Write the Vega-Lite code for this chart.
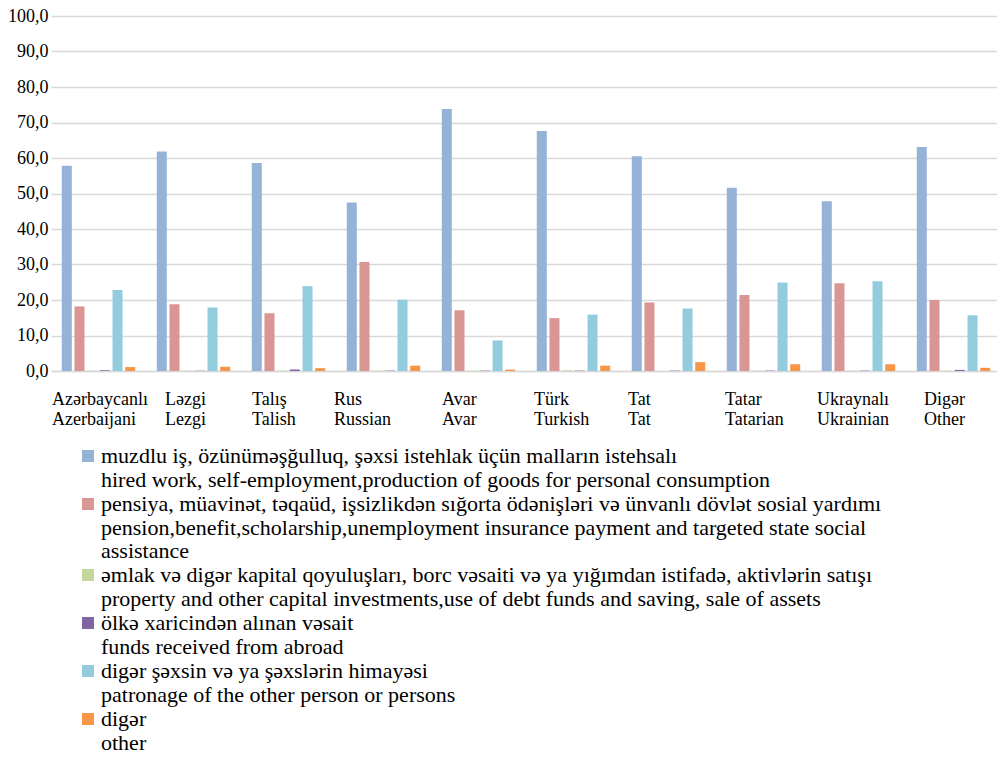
{
  "$schema": "https://vega.github.io/schema/vega-lite/v6.json",
  "width": 950,
  "height": 355,
  "autosize": "none",
  "padding": {"left": 51, "top": 16, "right": 0, "bottom": 387},
  "background": "white",
  "config": {"font": "Liberation Serif", "view": {"stroke": null}},
  "datasets": {
    "series": [
      {"k": "A", "label": "muzdlu iş, özünüməşğulluq, şəxsi istehlak üçün malların istehsalı\nhired work, self-employment,production of goods for personal consumption"},
      {"k": "B", "label": "pensiya, müavinət, təqaüd, işsizlikdən sığorta ödənişləri və ünvanlı dövlət sosial yardımı\npension,benefit,scholarship,unemployment insurance payment and targeted state social\nassistance"},
      {"k": "C", "label": " əmlak və digər kapital qoyuluşları, borc vəsaiti və ya yığımdan istifadə, aktivlərin satışı\nproperty and other capital investments,use of debt funds and saving, sale of assets"},
      {"k": "D", "label": " ölkə xaricindən alınan vəsait\nfunds received from abroad"},
      {"k": "E", "label": "digər şəxsin və ya şəxslərin himayəsi\npatronage of the other person or persons"},
      {"k": "F", "label": "digər\nother"}
    ]
  },
  "data": {"values": [
    {"g": "Azərbaycanlı\nAzerbaijani", "k": "A", "v": 57.8},
    {"g": "Azərbaycanlı\nAzerbaijani", "k": "B", "v": 18.2},
    {"g": "Azərbaycanlı\nAzerbaijani", "k": "C", "v": 0.1},
    {"g": "Azərbaycanlı\nAzerbaijani", "k": "D", "v": 0.2},
    {"g": "Azərbaycanlı\nAzerbaijani", "k": "E", "v": 22.8},
    {"g": "Azərbaycanlı\nAzerbaijani", "k": "F", "v": 1.1},
    {"g": "Ləzgi\nLezgi", "k": "A", "v": 61.8},
    {"g": "Ləzgi\nLezgi", "k": "B", "v": 18.8},
    {"g": "Ləzgi\nLezgi", "k": "C", "v": 0.1},
    {"g": "Ləzgi\nLezgi", "k": "D", "v": 0.1},
    {"g": "Ləzgi\nLezgi", "k": "E", "v": 17.9},
    {"g": "Ləzgi\nLezgi", "k": "F", "v": 1.2},
    {"g": "Talış\nTalish", "k": "A", "v": 58.6},
    {"g": "Talış\nTalish", "k": "B", "v": 16.3},
    {"g": "Talış\nTalish", "k": "C", "v": 0.1},
    {"g": "Talış\nTalish", "k": "D", "v": 0.4},
    {"g": "Talış\nTalish", "k": "E", "v": 23.9},
    {"g": "Talış\nTalish", "k": "F", "v": 0.8},
    {"g": "Rus\nRussian", "k": "A", "v": 47.5},
    {"g": "Rus\nRussian", "k": "B", "v": 30.7},
    {"g": "Rus\nRussian", "k": "C", "v": 0.1},
    {"g": "Rus\nRussian", "k": "D", "v": 0.1},
    {"g": "Rus\nRussian", "k": "E", "v": 20.1},
    {"g": "Rus\nRussian", "k": "F", "v": 1.5},
    {"g": "Avar\nAvar", "k": "A", "v": 73.8},
    {"g": "Avar\nAvar", "k": "B", "v": 17.1},
    {"g": "Avar\nAvar", "k": "C", "v": 0.1},
    {"g": "Avar\nAvar", "k": "D", "v": 0.1},
    {"g": "Avar\nAvar", "k": "E", "v": 8.6},
    {"g": "Avar\nAvar", "k": "F", "v": 0.4},
    {"g": "Türk\nTurkish", "k": "A", "v": 67.6},
    {"g": "Türk\nTurkish", "k": "B", "v": 14.9},
    {"g": "Türk\nTurkish", "k": "C", "v": 0.2},
    {"g": "Türk\nTurkish", "k": "D", "v": 0.1},
    {"g": "Türk\nTurkish", "k": "E", "v": 15.9},
    {"g": "Türk\nTurkish", "k": "F", "v": 1.5},
    {"g": "Tat\nTat", "k": "A", "v": 60.5},
    {"g": "Tat\nTat", "k": "B", "v": 19.3},
    {"g": "Tat\nTat", "k": "C", "v": 0.0},
    {"g": "Tat\nTat", "k": "D", "v": 0.1},
    {"g": "Tat\nTat", "k": "E", "v": 17.6},
    {"g": "Tat\nTat", "k": "F", "v": 2.5},
    {"g": "Tatar\nTatarian", "k": "A", "v": 51.6},
    {"g": "Tatar\nTatarian", "k": "B", "v": 21.4},
    {"g": "Tatar\nTatarian", "k": "C", "v": 0.1},
    {"g": "Tatar\nTatarian", "k": "D", "v": 0.1},
    {"g": "Tatar\nTatarian", "k": "E", "v": 24.9},
    {"g": "Tatar\nTatarian", "k": "F", "v": 1.9},
    {"g": "Ukraynalı\nUkrainian", "k": "A", "v": 47.8},
    {"g": "Ukraynalı\nUkrainian", "k": "B", "v": 24.7},
    {"g": "Ukraynalı\nUkrainian", "k": "C", "v": 0.1},
    {"g": "Ukraynalı\nUkrainian", "k": "D", "v": 0.1},
    {"g": "Ukraynalı\nUkrainian", "k": "E", "v": 25.3},
    {"g": "Ukraynalı\nUkrainian", "k": "F", "v": 1.9},
    {"g": "Digər\nOther", "k": "A", "v": 63.1},
    {"g": "Digər\nOther", "k": "B", "v": 20.0},
    {"g": "Digər\nOther", "k": "C", "v": 0.1},
    {"g": "Digər\nOther", "k": "D", "v": 0.3},
    {"g": "Digər\nOther", "k": "E", "v": 15.7},
    {"g": "Digər\nOther", "k": "F", "v": 0.9}
  ]},
  "transform": [
    {"lookup": "k", "from": {"data": {"name": "series"}, "key": "k", "fields": ["label"]}}
  ],
  "mark": {"type": "bar"},
  "encoding": {
    "x": {
      "field": "g", "type": "nominal", "sort": null,
      "scale": {"paddingInner": 0, "paddingOuter": 0},
      "axis": {
        "title": null,
        "labelExpr": "split(datum.label, '\\n')",
        "labelAngle": 0,
        "labelAlign": "left",
        "labelBaseline": "top",
        "labelOffset": {
          "condition": [
            {"test": "datum.value == domain('x')[1]", "value": -28.5},
            {"test": "datum.value == domain('x')[2]", "value": -36.5},
            {"test": "datum.value == domain('x')[3]", "value": -49.5},
            {"test": "datum.value == domain('x')[4]", "value": -36.5},
            {"test": "datum.value == domain('x')[5]", "value": -39.5},
            {"test": "datum.value == domain('x')[6]", "value": -40.5},
            {"test": "datum.value == domain('x')[7]", "value": -38.5},
            {"test": "datum.value == domain('x')[8]", "value": -41.5},
            {"test": "datum.value == domain('x')[9]", "value": -29.5}
          ],
          "value": -46.5
        },
        "labelPadding": 19,
        "labelFont": "Liberation Serif",
        "labelFontSize": 18,
        "labelLineHeight": 20,
        "labelColor": "#000000",
        "labelLimit": 300,
        "ticks": false,
        "domainColor": "#d9d9d9",
        "domainWidth": 1.5
      }
    },
    "xOffset": {
      "field": "label", "type": "nominal", "sort": null,
      "scale": {"paddingInner": 0.21, "paddingOuter": 0.85}
    },
    "y": {
      "field": "v", "type": "quantitative",
      "scale": {"domain": [0, 100]},
      "axis": {
        "title": null,
        "values": [0, 10, 20, 30, 40, 50, 60, 70, 80, 90, 100],
        "labelExpr": "replace(format(datum.value, '.1f'), '.', ',')",
        "labelFont": "Liberation Serif",
        "labelFontSize": 18,
        "labelColor": "#000000",
        "labelPadding": 3,
        "ticks": false,
        "domain": false,
        "gridColor": "#d9d9d9",
        "gridWidth": 1.5
      }
    },
    "color": {
      "field": "label", "type": "nominal", "sort": null,
      "scale": {"range": ["#95b3d7", "#d99694", "#c3d69b", "#8064a2", "#93cddd", "#f79646"]},
      "legend": {
        "title": null,
        "orient": "none",
        "legendX": 26,
        "legendY": 429,
        "direction": "vertical",
        "symbolType": "square",
        "symbolSize": 144,
        "symbolStrokeWidth": 0,
        "labelExpr": "split(datum.label, '\\n')",
        "labelFont": "Liberation Serif",
        "labelFontSize": 22,
        "labelLimit": 1000,
        "labelColor": "#000000",
        "labelOffset": 2,
        "rowPadding": 2,
        "encode": {
          "labels": {
            "update": {
              "lineHeight": {"value": 23.5},
              "font": {"value": "Liberation Serif"}
            }
          }
        }
      }
    }
  }
}
